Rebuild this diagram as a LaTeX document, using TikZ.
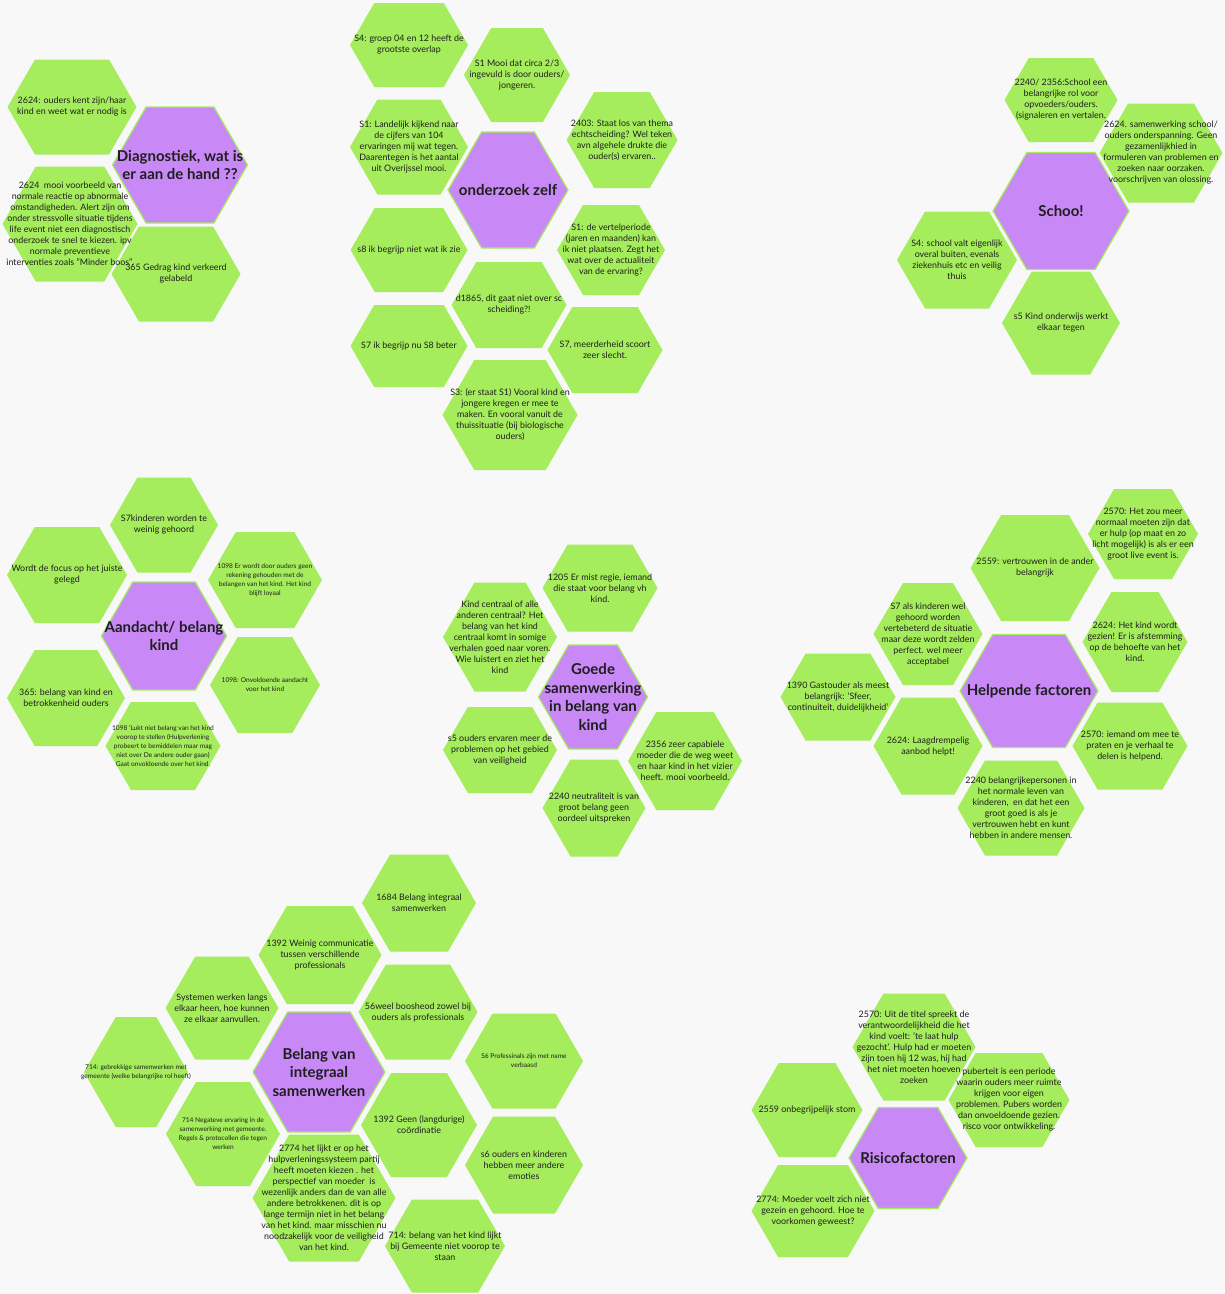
\documentclass[tikz,border=0pt]{standalone}
\usepackage{fontspec}
\setmainfont{Lato}
\usetikzlibrary{backgrounds}
\definecolor{bgc}{RGB}{248,248,248}
\definecolor{hgreen}{RGB}{165,237,92}
\definecolor{hpurple}{RGB}{200,137,246}
\definecolor{txt}{RGB}{30,30,30}
\tikzset{
  greenhex/.style={fill=hgreen},
  purplehex/.style={fill=hpurple, draw=hgreen, line width=1.2pt},
  gt/.style={align=center, inner sep=0pt, text=txt, font=\fontsize{8.9}{11}\selectfont},
  st/.style={align=center, inner sep=0pt, text=txt, font=\fontsize{6.6}{9}\selectfont},
  tt/.style={align=center, inner sep=0pt, text=txt, font=\bfseries\fontsize{15}{18.5}\selectfont},
}
% #1 fill style, #2 text style, #3 name, #4 cx, #5 cy, #6 w, #7 h, #8 text
\newcommand{\hx}[8]{%
  \begin{pgfonlayer}{background}
    \path[#1] ({#4-#6/2},#5) -- ({#4-#6/2+0.289*#7},{#5-#7/2}) -- ({#4+#6/2-0.289*#7},{#5-#7/2})
      -- ({#4+#6/2},#5) -- ({#4+#6/2-0.289*#7},{#5+#7/2}) -- ({#4-#6/2+0.289*#7},{#5+#7/2}) -- cycle;
  \end{pgfonlayer}
  \node[#2] (#3) at (#4,#5) {#8};
}
\begin{document}
\begin{tikzpicture}[x=1pt,y=-1pt]
\begin{pgfonlayer}{background}
  \fill[bgc] (0,0) rectangle (1225,1294);
\end{pgfonlayer}
\useasboundingbox (0,0) rectangle (1225,1294);

% ---- Diagnostiek
\hx{greenhex}{gt}{a1}{72}{107}{129}{95}{2624: ouders kent zijn/haar\\kind en weet wat er nodig is}
\hx{purplehex}{tt}{at}{180}{165}{135}{116}{Diagnostiek, wat is\\er aan de hand ??}
\hx{greenhex}{gt}{a2}{70}{224}{135}{115}{2624\ \ mooi voorbeeld van\\normale reactie op abnormale\\omstandigheden. Alert zijn om\\onder stressvolle situatie tijdens\\life event niet een diagnostisch\\onderzoek te snel te kiezen. ipv\\normale preventieve\\interventies zoals "Minder boos".}
\hx{greenhex}{gt}{a3}{176}{274}{129}{95}{365 Gedrag kind verkeerd\\gelabeld}

% ---- onderzoek zelf
\hx{greenhex}{gt}{b1}{409}{45}{118}{84}{S4: groep 04 en 12 heeft de\\grootste overlap}
\hx{greenhex}{gt}{b2}{517}{75}{106}{94}{S1 Mooi dat circa 2/3\\ingevuld is door ouders/\\jongeren.}
\hx{greenhex}{gt}{b3}{409}{147}{118}{95}{S1: Landelijk kijkend naar\\de cijfers van 104\\ervaringen mij wat tegen.\\Daarentegen is het aantal\\uit Overijssel mooi.}
\hx{greenhex}{gt}{b4}{622}{140}{111}{96}{2403: Staat los van thema\\echtscheiding? Wel teken\\avn algehele drukte die\\ouder(s) ervaren..}
\hx{purplehex}{tt}{bt}{508}{190}{120}{116}{onderzoek zelf}
\hx{greenhex}{gt}{b5}{409}{250}{117}{84}{s8 ik begrijp niet wat ik zie}
\hx{greenhex}{gt}{b6}{611}{250}{108}{90}{S1: de vertelperiode\\(jaren en maanden) kan\\ik niet plaatsen. Zegt het\\wat over de actualiteit\\van de ervaring?}
\hx{greenhex}{gt}{b7}{509}{305}{115}{86}{d1865, dit gaat niet over sc\\scheiding?!}
\hx{greenhex}{gt}{b8}{409}{346}{117}{82}{S7 ik begrijp nu S8 beter}
\hx{greenhex}{gt}{b9}{605}{350}{115}{86}{S7, meerderheid scoort\\zeer slecht.}
\hx{greenhex}{gt}{b10}{510}{415}{135}{110}{S3: (er staat S1) Vooral kind en\\jongere kregen er mee te\\maken. En vooral vanuit de\\thuissituatie (bij biologische\\ouders)}

% ---- School
\hx{greenhex}{gt}{c1}{1061}{100}{113}{84}{2240/ 2356:School een\\belangrijke rol voor\\opvoeders/ouders.\\(signaleren en vertalen.}
\hx{greenhex}{gt}{c2}{1161}{153}{123}{99}{2624. samenwerking school/\\ouders onderspanning. Geen\\gezamenlijkhied in\\formuleren van problemen en\\zoeken naar oorzaken.\\voorschrijven van olossing.}
\hx{purplehex}{tt}{ct}{1061}{211}{136}{117}{Schoo!}
\hx{greenhex}{gt}{c3}{957}{260}{120}{97}{S4: school valt eigenlijk\\overal buiten, evenals\\ziekenhuis etc en veilig\\thuis}
\hx{greenhex}{gt}{c4}{1061}{323}{118}{103}{s5 Kind onderwijs werkt\\elkaar tegen}

% ---- Aandacht
\hx{greenhex}{gt}{d1}{164}{525}{108}{95}{S7kinderen worden te\\weinig gehoord}
\hx{greenhex}{gt}{d2}{67}{575}{120}{96}{Wordt de focus op het juiste\\gelegd}
\hx{greenhex}{st}{d3}{265}{580}{114}{96}{1098 Er wordt door ouders geen\\rekening gehouden met de\\belangen van het kind. Het kind\\blijft loyaal}
\hx{purplehex}{tt}{dt}{164}{636}{125}{108}{Aandacht/ belang\\kind}
\hx{greenhex}{gt}{d4}{66}{698}{118}{96}{365: belang van kind en\\betrokkenheid ouders}
\hx{greenhex}{st}{d5}{265}{685}{110}{96}{1098: Onvoldoende aandacht\\voor het kind}
\hx{greenhex}{st}{d6}{163}{746}{115}{88}{1098 'Lukt niet belang van het kind\\voorop te stellen (Hulpverlening\\probeert te bemiddelen maar mag\\niet over De andere ouder gaan)\\Gaat onvoldoende over het kind.}

% ---- Goede samenwerking
\hx{greenhex}{gt}{e1}{600}{588}{115}{87}{1205 Er mist regie, iemand\\die staat voor belang vh\\kind.}
\hx{greenhex}{gt}{e2}{500}{637}{114}{109}{Kind centraal of alle\\anderen centraal? Het\\belang van het kind\\centraal komt in somige\\verhalen goed naar voren.\\Wie luistert en ziet het\\kind}
\hx{purplehex}{tt}{et}{593}{697}{109}{104}{Goede\\samenwerking\\in belang van\\kind}
\hx{greenhex}{gt}{e3}{500}{750}{114}{86}{s5 ouders ervaren meer de\\problemen op het gebied\\van veiligheid}
\hx{greenhex}{gt}{e4}{685}{761}{114}{98}{2356 zeer capabiele\\moeder die de weg weet\\en haar kind in het vizier\\heeft. mooi voorbeeld.}
\hx{greenhex}{gt}{e5}{594}{808}{103}{97}{2240 neutraliteit is van\\groot belang geen\\oordeel uitspreken}

% ---- Helpende factoren
\hx{greenhex}{gt}{f1}{1143}{534}{110}{90}{2570: Het zou meer\\normaal moeten zijn dat\\er hulp (op maat en zo\\licht mogelijk) is als er een\\groot live event is.}
\hx{greenhex}{gt}{f2}{1035}{568}{129}{106}{2559: vertrouwen in de ander\\belangrijk}
\hx{greenhex}{gt}{f3}{928}{634}{109}{102}{S7 als kinderen wel\\gehoord worden\\vertebeterd de situatie\\maar deze wordt zelden\\perfect. wel meer\\acceptabel}
\hx{greenhex}{gt}{f4}{1135}{642}{105}{100}{2624: Het kind wordt\\gezien! Er is afstemming\\op de behoefte van het\\kind.}
\hx{purplehex}{tt}{ft}{1029}{691}{138}{113}{Helpende factoren}
\hx{greenhex}{gt}{f5}{838}{697}{115}{87}{1390 Gastouder als meest\\belangrijk: `Sfeer,\\continuiteit, duidelijkheid'}
\hx{greenhex}{gt}{f6}{928}{746}{109}{97}{2624: Laagdrempelig\\aanbod helpt!}
\hx{greenhex}{gt}{f7}{1130}{746}{115}{87}{2570: iemand om mee te\\praten en je verhaal te\\delen is helpend.}
\hx{greenhex}{gt}{f8}{1021}{808}{127}{95}{2240 belangrijkepersonen in\\het normale leven van\\kinderen,\ \ en dat het een\\groot goed is als je\\vertrouwen hebt en kunt\\hebben in andere mensen.}

% ---- Belang van integraal samenwerken
\hx{greenhex}{gt}{g1}{419}{903}{114}{97}{1684 Belang integraal\\samenwerken}
\hx{greenhex}{gt}{g2}{320}{955}{123}{98}{1392 Weinig communicatie\\tussen verschillende\\professionals}
\hx{greenhex}{gt}{g3}{222}{1008}{113}{103}{Systemen werken langs\\elkaar heen, hoe kunnen\\ze elkaar aanvullen.}
\hx{greenhex}{gt}{g4}{418}{1012}{119}{95}{56weel boosheod zowel bij\\ouders als professionals}
\hx{purplehex}{tt}{gtit}{319}{1072}{132}{120}{Belang van\\integraal\\samenwerken}
\hx{greenhex}{st}{g5}{524}{1061}{118}{95}{S6 Professinals zijn met name\\verbaasd}
\hx{greenhex}{st}{g6}{136}{1072}{104}{110}{714: gebrekkige samenwerken met\\gemeente (welke belangrijke rol heeft)}
\hx{greenhex}{st}{g7}{223}{1134}{114}{104}{714 Negateve ervaring in de\\samenwerking met gemeente.\\Regels \& protocollen die tegen\\werken}
\hx{greenhex}{gt}{g8}{419}{1125}{116}{104}{1392 Geen (langdurige)\\coördinatie}
\hx{greenhex}{gt}{g9}{324}{1198}{143}{127}{2774 het lijkt er op het\\hulpverleningssysteem partij\\heeft moeten kiezen . het\\perspectief van moeder\ \ is\\wezenlijk anders dan de van alle\\andere betrokkenen. dit is op\\lange termijn niet in het belang\\van het kind. maar misschien nu\\noodzakelijk voor de veiligheid\\van het kind.}
\hx{greenhex}{gt}{g10}{524}{1165}{118}{97}{s6 ouders en kinderen\\hebben meer andere\\emoties}
\hx{greenhex}{gt}{g11}{445}{1246}{120}{93}{714: belang van het kind lijkt\\bij Gemeente niet voorop te\\staan}

% ---- Risicofactoren
\hx{greenhex}{gt}{h1}{914}{1047}{123}{107}{2570: Uit de titel spreekt de\\verantwoordelijkheid die het\\kind voelt: 'te laat hulp\\gezocht'. Hulp had er moeten\\zijn toen hij 12 was, hij had\\het niet moeten hoeven\\zoeken}
\hx{greenhex}{gt}{h2}{1009}{1100}{121}{94}{puberteit is een periode\\waarin ouders meer ruimte\\krijgen voor eigen\\problemen. Pubers worden\\dan onvoeldoende gezien.\\risco voor ontwikkeling.}
\hx{greenhex}{gt}{h3}{807}{1110}{111}{94}{2559 onbegrijpelijk stom}
\hx{purplehex}{tt}{htit}{908}{1158}{118}{101}{Risicofactoren}
\hx{greenhex}{gt}{h4}{813}{1211}{123}{92}{2774: Moeder voelt zich niet\\gezein en gehoord. Hoe te\\voorkomen geweest?}
\end{tikzpicture}
\end{document}
